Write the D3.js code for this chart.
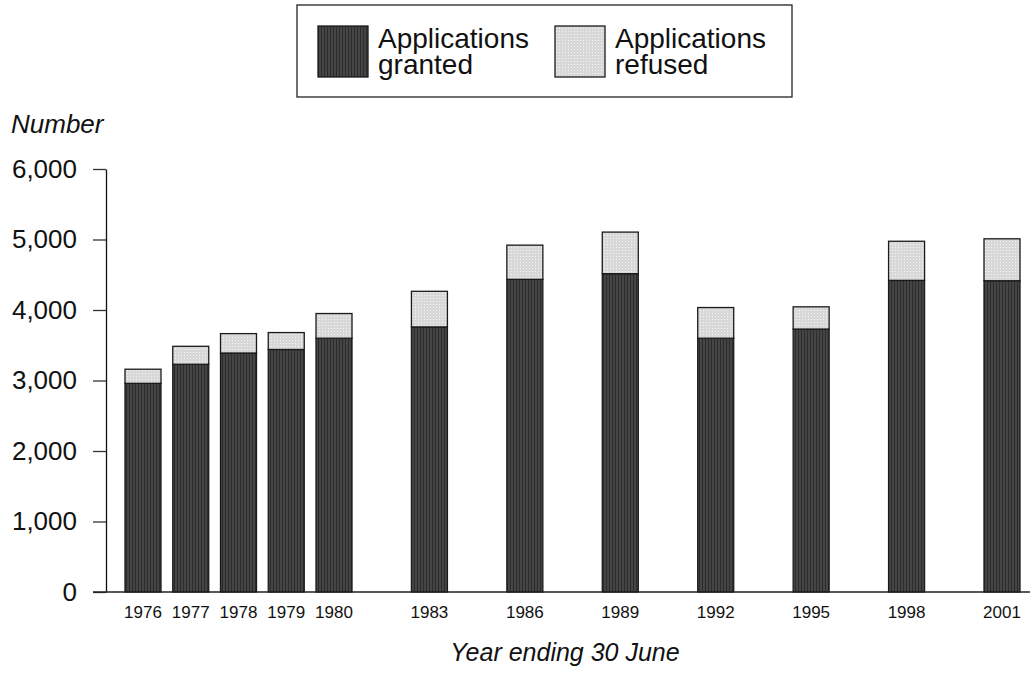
<!DOCTYPE html>
<html>
<head>
<meta charset="utf-8">
<script src="https://cdn.jsdelivr.net/npm/d3@7"></script>
<style>
  body { margin: 0; background: #fff; }
  svg { display: block; font-family: "Liberation Sans", Arial, sans-serif; }
</style>
</head>
<body>
<svg id="chart" width="1030" height="673"></svg>
<script>
// Data
const years = [1976, 1977, 1978, 1979, 1980, 1983, 1986, 1989, 1992, 1995, 1998, 2001];
const granted = [2960, 3230, 3390, 3440, 3600, 3760, 4435, 4515, 3600, 3730, 4420, 4415];
const refused = [200, 255, 275, 240, 350, 505, 485, 590, 435, 315, 555, 595];
const seriesNames = ["Applications granted", "Applications refused"];
const yTicks = [0, 1000, 2000, 3000, 4000, 5000, 6000];

const svg = d3.select("#chart");

// Fill patterns: dark striped for granted, light dotted for refused
const defs = svg.append("defs");
const dark = defs.append("pattern")
    .attr("id", "darkFill")
    .attr("patternUnits", "userSpaceOnUse")
    .attr("width", 3).attr("height", 3);
dark.append("rect").attr("width", 3).attr("height", 3).attr("fill", "#454545");
dark.append("rect").attr("width", 1).attr("height", 3).attr("fill", "#2c2c2c");

const light = defs.append("pattern")
    .attr("id", "lightFill")
    .attr("patternUnits", "userSpaceOnUse")
    .attr("width", 3).attr("height", 3);
light.append("rect").attr("width", 3).attr("height", 3).attr("fill", "#d8d8d8");
light.append("rect").attr("x", 1).attr("y", 1).attr("width", 1).attr("height", 1).attr("fill", "#f4f4f4");

const fills = ["url(#darkFill)", "url(#lightFill)"];

// Scales: the early years are spaced wider than the later 3-year steps
const x = d3.scaleLinear()
    .domain([1976, 1980, 2001])
    .range([143, 334, 1002]);

const y = d3.scaleLinear()
    .domain([0, 6000])
    .range([592, 169]);

const barWidth = 36;

// Stack the two series
const rows = years.map((yr, i) => ({ year: yr, granted: granted[i], refused: refused[i] }));
const stacked = d3.stack().keys(["granted", "refused"])(rows);

// Bars
svg.append("g")
    .selectAll("g")
    .data(stacked)
    .join("g")
    .attr("fill", (d, i) => fills[i])
    .selectAll("rect")
    .data(d => d)
    .join("rect")
    .attr("x", d => x(d.data.year) - barWidth / 2)
    .attr("y", d => y(d[1]))
    .attr("width", barWidth)
    .attr("height", d => y(d[0]) - y(d[1]))
    .attr("stroke", "#1a1a1a")
    .attr("stroke-width", 1.3);

// Y axis
const yAxis = svg.append("g")
    .attr("transform", "translate(106,0)")
    .call(d3.axisLeft(y)
        .tickValues(yTicks)
        .tickFormat(d3.format(","))
        .tickSize(13)
        .tickPadding(16)
        .tickSizeOuter(0));
yAxis.select(".domain").attr("stroke", "#111").attr("stroke-width", 1.3);
yAxis.selectAll(".tick line").attr("stroke", "#333").attr("stroke-width", 1.3);
yAxis.selectAll(".tick text")
    .attr("font-size", "26px")
    .attr("fill", "#111")
    .attr("font-family", "Liberation Sans, Arial, sans-serif");

// X axis baseline and year labels
svg.append("line")
    .attr("x1", 93).attr("x2", 1030)
    .attr("y1", y(0)).attr("y2", y(0))
    .attr("stroke", "#222")
    .attr("stroke-width", 1.3);

svg.append("g")
    .selectAll("text")
    .data(years)
    .join("text")
    .attr("x", d => x(d))
    .attr("y", 618)
    .attr("text-anchor", "middle")
    .attr("font-size", "17px")
    .attr("fill", "#111")
    .text(d => d);

// Axis titles
svg.append("text")
    .attr("x", 11)
    .attr("y", 133)
    .attr("font-size", "26px")
    .attr("font-style", "italic")
    .attr("fill", "#111")
    .text("Number");

svg.append("text")
    .attr("x", 565)
    .attr("y", 661)
    .attr("text-anchor", "middle")
    .attr("font-size", "25px")
    .attr("font-style", "italic")
    .attr("fill", "#111")
    .text("Year ending 30 June");

// Legend
const legend = svg.append("g");
legend.append("rect")
    .attr("x", 297).attr("y", 5)
    .attr("width", 495).attr("height", 92)
    .attr("fill", "none")
    .attr("stroke", "#222")
    .attr("stroke-width", 1.3);

const legendX = [318, 555];
seriesNames.forEach((name, i) => {
    legend.append("rect")
        .attr("x", legendX[i]).attr("y", 26)
        .attr("width", 50).attr("height", 51)
        .attr("fill", fills[i])
        .attr("stroke", "#1a1a1a")
        .attr("stroke-width", 1.3);
    const words = name.split(" ");
    const t = legend.append("text")
        .attr("x", legendX[i] + 60)
        .attr("y", 48)
        .attr("font-size", "28px")
        .attr("fill", "#111");
    words.forEach((w, j) => {
        t.append("tspan")
            .attr("x", legendX[i] + 60)
            .attr("dy", j === 0 ? 0 : 26)
            .text(w);
    });
});
</script>
</body>
</html>
